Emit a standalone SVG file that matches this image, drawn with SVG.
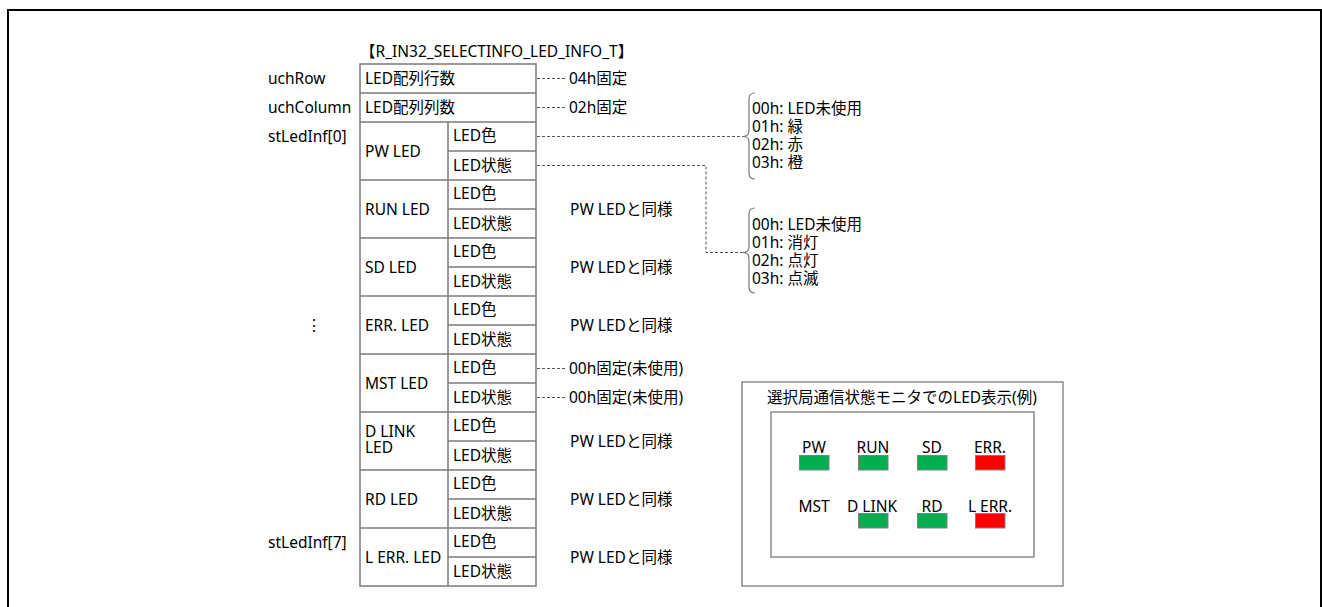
<svg xmlns="http://www.w3.org/2000/svg" width="1322" height="607" viewBox="0 0 1322 607">
<style>
text{font-family:"Noto Sans","Noto Sans CJK JP",sans-serif;font-size:15.5px;fill:#000}
.cell{fill:#fff;stroke:#7a7a7a;stroke-width:1.5}
.ln{stroke:#7a7a7a;stroke-width:1.5;fill:none}
.dash{stroke:#555;stroke-width:1;stroke-dasharray:3 2;fill:none}
.brace{stroke:#7a7a7a;stroke-width:1.2;fill:none}
.g{fill:#00B050;stroke:#808080;stroke-width:1}
.r{fill:#FF0000;stroke:#808080;stroke-width:1}
.box{fill:#fff;stroke:#7a7a7a;stroke-width:1.3}
</style>
<rect x="8" y="10" width="1313" height="610" fill="#fff" stroke="#000" stroke-width="2"/>

<g id="title"><text x="360" y="57">【R_IN32_SELECTINFO_LED_INFO_T】</text></g>

<g id="labels">
<text x="268" y="83.5">uchRow</text>
<text x="268" y="112.5">uchColumn</text>
<text x="268" y="141.5">stLedInf[0]</text>
<text x="306" y="331">⋮</text>
<text x="268" y="547.5">stLedInf[7]</text>
</g>

<g id="table">
<rect class="cell" x="360" y="64" width="176" height="522"/>
<line class="ln" x1="360" y1="93" x2="536" y2="93"/>
<line class="ln" x1="360" y1="122" x2="536" y2="122"/>
<line class="ln" x1="448" y1="122" x2="448" y2="586"/>
<g id="rowlines">
<line class="ln" x1="448" y1="151" x2="536" y2="151"/>
<line class="ln" x1="360" y1="180" x2="536" y2="180"/>
<line class="ln" x1="448" y1="209" x2="536" y2="209"/>
<line class="ln" x1="360" y1="238" x2="536" y2="238"/>
<line class="ln" x1="448" y1="267" x2="536" y2="267"/>
<line class="ln" x1="360" y1="296" x2="536" y2="296"/>
<line class="ln" x1="448" y1="325" x2="536" y2="325"/>
<line class="ln" x1="360" y1="354" x2="536" y2="354"/>
<line class="ln" x1="448" y1="383" x2="536" y2="383"/>
<line class="ln" x1="360" y1="412" x2="536" y2="412"/>
<line class="ln" x1="448" y1="441" x2="536" y2="441"/>
<line class="ln" x1="360" y1="470" x2="536" y2="470"/>
<line class="ln" x1="448" y1="499" x2="536" y2="499"/>
<line class="ln" x1="360" y1="528" x2="536" y2="528"/>
<line class="ln" x1="448" y1="557" x2="536" y2="557"/>
</g>
<text x="365" y="84">LED配列行数</text>
<text x="365" y="113">LED配列列数</text>
<text x="365" y="156.5">PW LED</text>
<text x="365" y="214.5">RUN LED</text>
<text x="365" y="272.5">SD LED</text>
<text x="365" y="330.5">ERR. LED</text>
<text x="365" y="388.5">MST LED</text>
<text x="365" y="437"><tspan x="365">D LINK</tspan><tspan x="365" dy="15.5">LED</tspan></text>
<text x="365" y="504.5">RD LED</text>
<text x="365" y="562.5">L ERR. LED</text>
<g id="sub">
<text x="453" y="140.5">LED色</text><text x="453" y="170.5">LED状態</text>
<text x="453" y="198.5">LED色</text><text x="453" y="228.5">LED状態</text>
<text x="453" y="256.5">LED色</text><text x="453" y="286.5">LED状態</text>
<text x="453" y="314.5">LED色</text><text x="453" y="344.5">LED状態</text>
<text x="453" y="372.5">LED色</text><text x="453" y="402.5">LED状態</text>
<text x="453" y="430.5">LED色</text><text x="453" y="460.5">LED状態</text>
<text x="453" y="488.5">LED色</text><text x="453" y="518.5">LED状態</text>
<text x="453" y="546.5">LED色</text><text x="453" y="576.5">LED状態</text>
</g>
</g>

<g id="connectors">
<line class="dash" x1="537" y1="78.5" x2="566" y2="78.5"/>
<line class="dash" x1="537" y1="107.5" x2="566" y2="107.5"/>
<line class="dash" x1="537" y1="136.5" x2="743" y2="136.5"/>
<polyline class="dash" points="537,165.5 706,165.5 706,252.5 743,252.5"/>
<line class="dash" x1="537" y1="368.5" x2="566" y2="368.5"/>
<line class="dash" x1="537" y1="397.5" x2="566" y2="397.5"/>
</g>

<g id="notes">
<text x="569" y="84">04h固定</text>
<text x="569" y="113">02h固定</text>
<text x="569" y="374">00h固定(未使用)</text>
<text x="569" y="403">00h固定(未使用)</text>
<text x="570" y="214.5">PW LEDと同様</text>
<text x="570" y="272.5">PW LEDと同様</text>
<text x="570" y="330.5">PW LEDと同様</text>
<text x="570" y="446.5">PW LEDと同様</text>
<text x="570" y="504.5">PW LEDと同様</text>
<text x="570" y="562.5">PW LEDと同様</text>
</g>

<g id="brace-color">
<path class="brace" d="M755,93 Q749,93 749,99 L749,130.5 Q749,136.5 743,136.5 Q749,136.5 749,142.5 L749,173 Q749,179 755,179"/>
<text x="752" y="113.5"><tspan x="752">00h: LED未使用</tspan><tspan x="752" dy="18">01h: 緑</tspan><tspan x="752" dy="18">02h: 赤</tspan><tspan x="752" dy="18">03h: 橙</tspan></text>
</g>

<g id="brace-state">
<path class="brace" d="M755,208 Q749,208 749,214 L749,246.5 Q749,252.5 743,252.5 Q749,252.5 749,258.5 L749,287 Q749,293 755,293"/>
<text x="752" y="229.5"><tspan x="752">00h: LED未使用</tspan><tspan x="752" dy="18.3">01h: 消灯</tspan><tspan x="752" dy="18.3">02h: 点灯</tspan><tspan x="752" dy="18.3">03h: 点滅</tspan></text>
</g>

<g id="monitor">
<rect class="box" x="742" y="382" width="321" height="204"/>
<text x="902" y="402.5" text-anchor="middle">選択局通信状態モニタでのLED表示(例)</text>
<rect class="box" x="771" y="412" width="263" height="145"/>
<g text-anchor="middle">
<text x="814" y="453">PW</text>
<text x="873" y="453">RUN</text>
<text x="932" y="453">SD</text>
<text x="990" y="453">ERR.</text>
<text x="814" y="512">MST</text>
<text x="872" y="512">D LINK</text>
<text x="932" y="512">RD</text>
<text x="990" y="512">L ERR.</text>
</g>
<rect class="g" x="799.5" y="455.5" width="29.5" height="14.5"/>
<rect class="g" x="858.5" y="455.5" width="29.5" height="14.5"/>
<rect class="g" x="917.5" y="455.5" width="29.5" height="14.5"/>
<rect class="r" x="975.5" y="455.5" width="29.5" height="14.5"/>
<rect class="g" x="858.5" y="513.5" width="29.5" height="14.5"/>
<rect class="g" x="917.5" y="513.5" width="29.5" height="14.5"/>
<rect class="r" x="975.5" y="513.5" width="29.5" height="14.5"/>
</g>
</svg>
